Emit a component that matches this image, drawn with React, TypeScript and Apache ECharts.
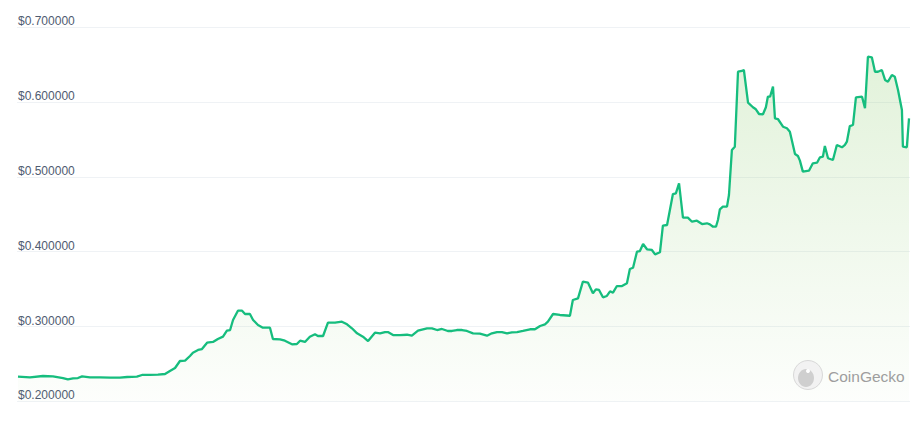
import React, { useEffect, useRef } from "react";
import * as echarts from "echarts";

// Day index (0..365) within the one-year window
const days: number[] = [
  0.4, 5.3, 10.6, 14.7, 18.8, 20.8, 22.9, 24.9, 26.6, 29.8, 33.9, 38.0, 42.1, 45.0, 49.0, 51.1, 54.4, 57.6, 60.5, 62.5,
  64.6, 66.6, 68.7, 70.7, 71.9, 74.0, 75.6, 77.7, 80.1, 82.1, 84.2, 85.8, 87.1, 88.3, 90.3, 92.0, 93.2, 95.2, 96.5, 98.5,
  100.5, 103.4, 104.6, 107.5, 109.5, 112.4, 114.4, 115.7, 117.7, 119.7, 121.8, 123.0, 125.1, 127.1, 130.0, 132.8, 134.9, 136.9, 139.0, 141.4,
  143.5, 146.3, 148.4, 150.4, 151.6, 153.7, 156.5, 159.4, 161.4, 163.9, 167.6, 169.6, 171.7, 173.7, 176.1, 177.8, 179.8, 181.9, 183.9, 186.4,
  189.2, 192.1, 194.1, 196.2, 198.2, 200.3, 202.3, 204.4, 206.8, 209.7, 211.7, 213.8, 215.8, 217.0, 219.1, 221.9, 226.0, 227.2, 229.3, 231.3,
  233.4, 235.4, 236.6, 237.9, 239.5, 241.1, 242.4, 243.6, 245.2, 247.3, 249.3, 250.5, 251.8, 253.4, 254.6, 255.9, 257.5, 259.5, 260.8, 262.8,
  264.0, 265.7, 268.1, 269.3, 270.6, 272.2, 274.2, 275.9, 277.9, 280.0, 282.0, 283.2, 284.5, 285.7, 286.5, 287.3, 288.5, 290.2, 291.0, 292.2,
  293.4, 294.7, 296.3, 297.1, 298.8, 300.8, 302.0, 303.3, 304.9, 306.1, 306.9, 307.8, 309.0, 309.8, 311.0, 313.1, 314.7, 315.9, 318.0, 319.2,
  320.0, 321.2, 323.7, 325.3, 327.0, 328.2, 329.4, 330.2, 331.5, 333.5, 335.1, 337.2, 338.4, 339.2, 340.4, 341.7, 342.9, 345.4, 346.6, 347.8,
  349.4, 350.7, 351.9, 353.5, 354.8, 356.0, 357.6, 358.8, 360.1, 361.7, 362.1, 363.7, 364.6,
];

// Price in USD
const prices: number[] = [
  0.2329, 0.2321, 0.2338, 0.2334, 0.2311, 0.2294, 0.2307, 0.2311, 0.2334, 0.2321, 0.2321, 0.2316, 0.2316, 0.2325, 0.2329, 0.2352, 0.2352, 0.2356, 0.2365, 0.2405,
  0.2445, 0.2539, 0.2543, 0.2606, 0.2650, 0.2686, 0.2699, 0.2783, 0.2793, 0.2833, 0.2864, 0.2944, 0.2953, 0.3087, 0.3211, 0.3211, 0.3167, 0.3167, 0.3087, 0.3020,
  0.2984, 0.2984, 0.2833, 0.2829, 0.2810, 0.2762, 0.2766, 0.2810, 0.2793, 0.2864, 0.2896, 0.2873, 0.2873, 0.3051, 0.3051, 0.3064, 0.3029, 0.2976, 0.2909, 0.2864,
  0.2806, 0.2917, 0.2909, 0.2926, 0.2926, 0.2886, 0.2886, 0.2890, 0.2877, 0.2944, 0.2976, 0.2976, 0.2953, 0.2967, 0.2940, 0.2940, 0.2953, 0.2953, 0.2940, 0.2909,
  0.2904, 0.2877, 0.2909, 0.2926, 0.2926, 0.2909, 0.2922, 0.2926, 0.2940, 0.2963, 0.2963, 0.3007, 0.3029, 0.3064, 0.3167, 0.3154, 0.3144, 0.3354, 0.3377, 0.3599,
  0.3586, 0.3444, 0.3497, 0.3488, 0.3390, 0.3408, 0.3471, 0.3452, 0.3541, 0.3541, 0.3578, 0.3769, 0.3786, 0.4000, 0.4009, 0.4103, 0.4032, 0.4023, 0.3965, 0.3992,
  0.4348, 0.4357, 0.4771, 0.4781, 0.4914, 0.4455, 0.4455, 0.4401, 0.4414, 0.4370, 0.4380, 0.4366, 0.4334, 0.4334, 0.4424, 0.4567, 0.4602, 0.4602, 0.4758, 0.5360,
  0.5404, 0.6406, 0.6416, 0.6429, 0.5992, 0.5931, 0.5904, 0.5841, 0.5837, 0.5931, 0.6072, 0.6072, 0.6206, 0.5783, 0.5774, 0.5671, 0.5650, 0.5604, 0.5306, 0.5279,
  0.5217, 0.5070, 0.5083, 0.5182, 0.5190, 0.5262, 0.5270, 0.5413, 0.5249, 0.5226, 0.5427, 0.5396, 0.5427, 0.5471, 0.5680, 0.5694, 0.6064, 0.6072, 0.5917, 0.6607,
  0.6599, 0.6406, 0.6406, 0.6429, 0.6296, 0.6273, 0.6362, 0.6340, 0.6162, 0.5894, 0.5404, 0.5396, 0.5783,
];

const yTicks = [0.2, 0.3, 0.4, 0.5, 0.6, 0.7];
const brand = "CoinGecko";

export default function App() {
  const ref = useRef<HTMLDivElement>(null);
  useEffect(() => {
    if (!ref.current) return;
    const chart = echarts.init(ref.current, undefined, { renderer: "svg" });
    const data = days.map((d, i) => [d, prices[i]]);
    chart.setOption({
      animation: false,
      grid: { left: 17, right: 13, top: 27.3, bottom: 20.7, containLabel: false },
      xAxis: {
        type: "value",
        min: 0,
        max: 365,
        show: false,
      },
      yAxis: {
        type: "value",
        min: yTicks[0],
        max: yTicks[yTicks.length - 1],
        interval: 0.1,
        axisLine: { show: false },
        axisTick: { show: false },
        splitLine: { show: true, lineStyle: { color: "#eff2f5", width: 1 } },
        axisLabel: {
          inside: true,
          margin: 1,
          align: "left",
          verticalAlign: "bottom",
          padding: [0, 0, 0, 0],
          color: "#4f5b70",
          fontSize: 12,
          fontFamily: "Liberation Sans, Arial, sans-serif",
          formatter: (v: number) => "$" + v.toFixed(6),
        },
      },
      series: [
        {
          type: "line",
          data,
          showSymbol: false,
          symbol: "none",
          lineStyle: { color: "#16bd7e", width: 2.3 },
          areaStyle: {
            color: new echarts.graphic.LinearGradient(0, 0, 0, 1, [
              { offset: 0, color: "rgba(140, 204, 110, 0.36)" },
              { offset: 1, color: "rgba(140, 204, 110, 0.03)" },
            ]),
          },
          z: 3,
        },
      ],
      graphic: [
        {
          type: "circle",
          shape: { cx: 808, cy: 375, r: 14.5 },
          style: { fill: "#f2f2f2", stroke: "#d8d8d8", lineWidth: 1 },
          z: 10,
        },
        {
          type: "ellipse",
          shape: { cx: 806, cy: 378, rx: 8, ry: 9 },
          style: { fill: "#cfcfcf" },
          z: 11,
        },
        {
          type: "circle",
          shape: { cx: 808, cy: 371, r: 2 },
          style: { fill: "#ffffff" },
          z: 12,
        },
        {
          type: "text",
          x: 828,
          y: 376,
          style: {
            text: brand,
            fill: "#9e9e9e",
            fontSize: 15.5,
            fontFamily: "Liberation Sans, Arial, sans-serif",
            verticalAlign: "middle",
            align: "left",
          },
          z: 10,
        },
      ],
    });
    return () => chart.dispose();
  }, []);
  return <div ref={ref} style={{ width: 923, height: 422, position: "absolute", left: 0, top: 0 }} />;
}
